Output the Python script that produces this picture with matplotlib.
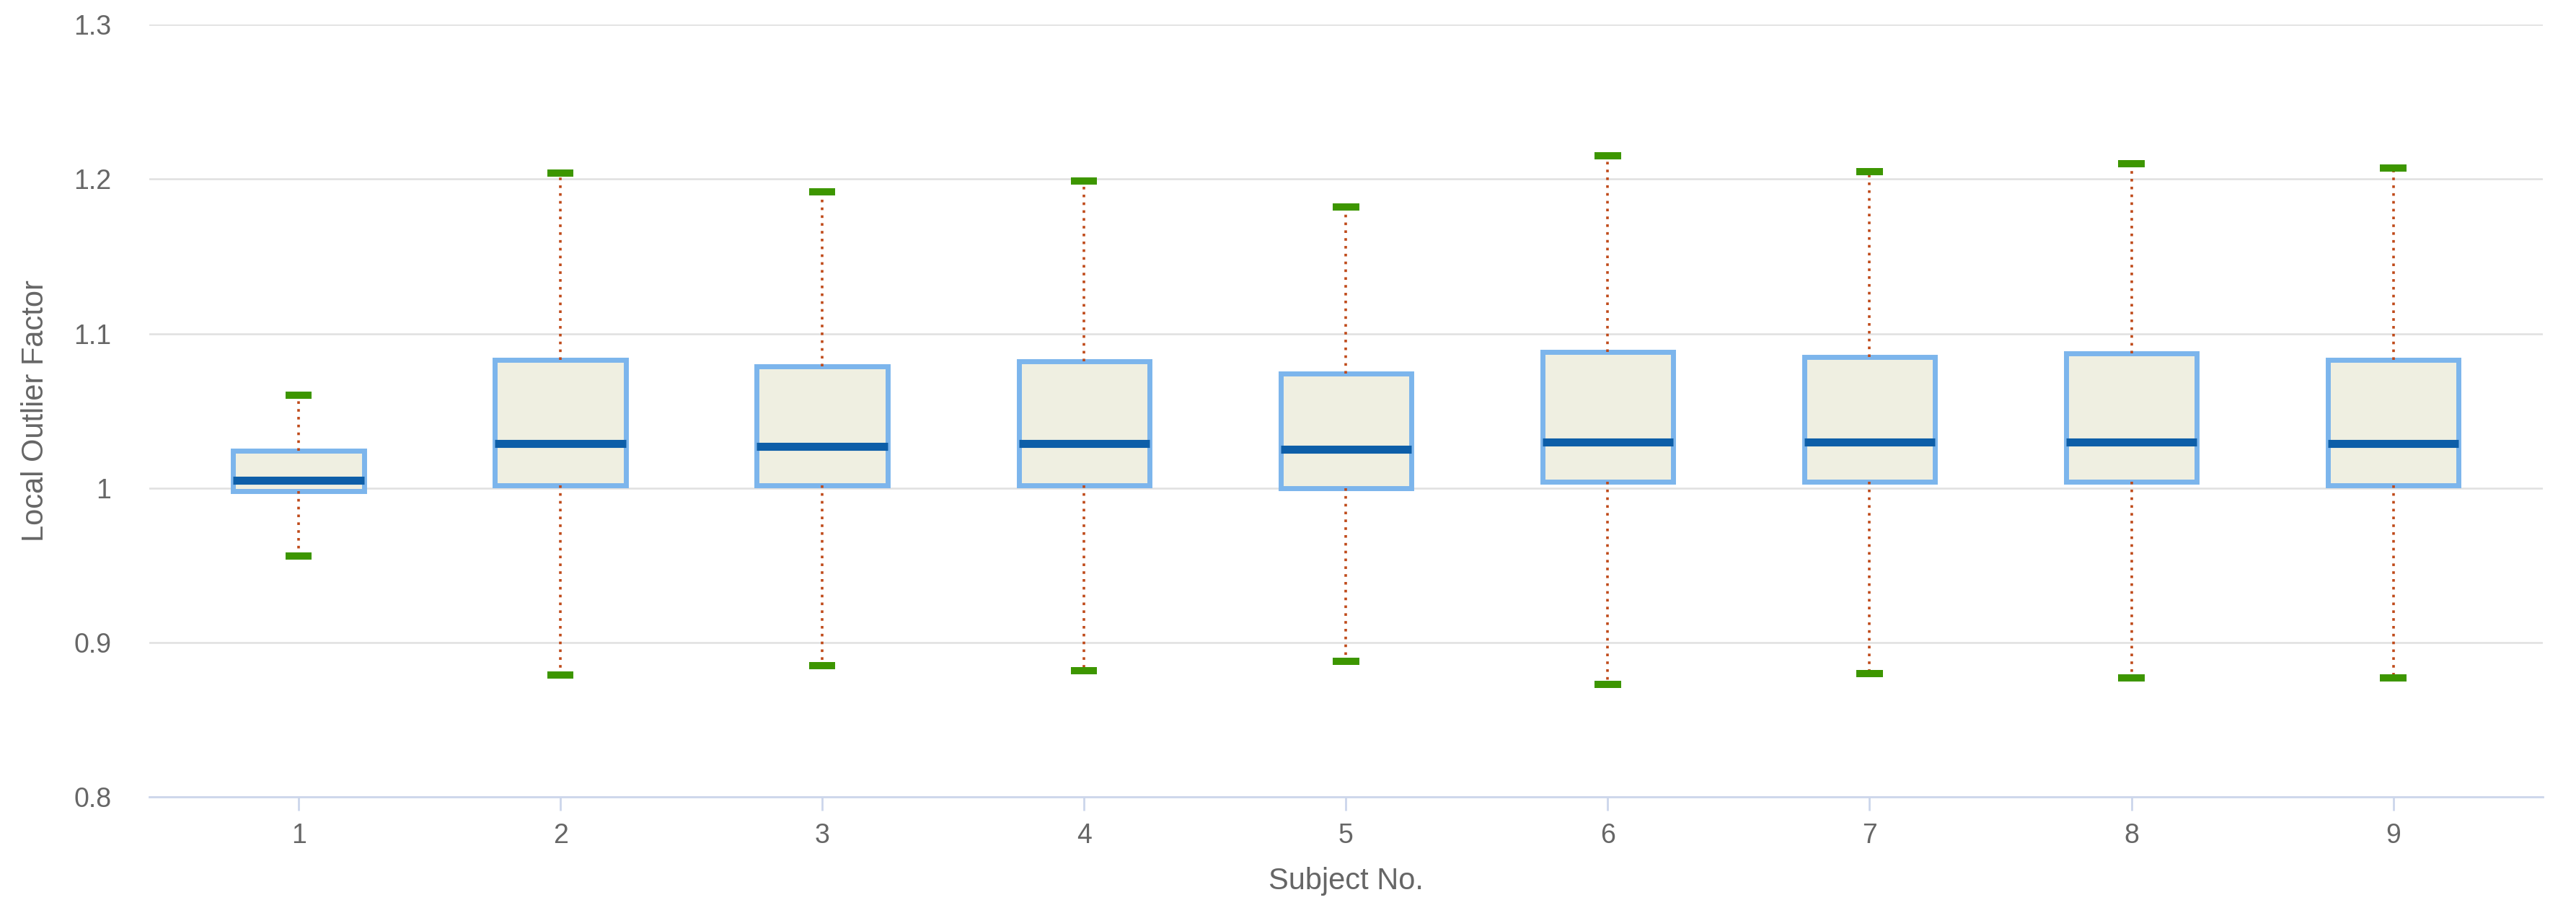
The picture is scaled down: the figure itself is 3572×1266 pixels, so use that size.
import matplotlib
matplotlib.use("Agg")
import matplotlib.pyplot as plt

plt.rcParams['font.family'] = ['Liberation Sans', 'DejaVu Sans']

subjects = ["1", "2", "3", "4", "5", "6", "7", "8", "9"]
lower_whisker = [0.956, 0.879, 0.885, 0.882, 0.888, 0.873, 0.880, 0.877, 0.877]
q1 = [0.998, 1.002, 1.002, 1.002, 1.000, 1.004, 1.004, 1.004, 1.002]
median = [1.005, 1.029, 1.027, 1.029, 1.025, 1.030, 1.030, 1.030, 1.029]
q3 = [1.024, 1.083, 1.079, 1.082, 1.074, 1.088, 1.085, 1.087, 1.083]
upper_whisker = [1.060, 1.204, 1.192, 1.199, 1.182, 1.215, 1.205, 1.210, 1.207]
y_ticks = [0.8, 0.9, 1.0, 1.1, 1.2, 1.3]

DPI = 200
fig = plt.figure(figsize=(3572 / DPI, 1266 / DPI), dpi=DPI)
ax = fig.add_axes([0.058, 0.127, 0.929, 0.846])

stats = []
for i, s in enumerate(subjects):
    stats.append(dict(label=s, whislo=lower_whisker[i], q1=q1[i], med=median[i],
                      q3=q3[i], whishi=upper_whisker[i], fliers=[]))

positions = list(range(1, len(subjects) + 1))
ax.bxp(stats, positions=positions, widths=0.5, capwidths=0.1, patch_artist=True,
       showfliers=False,
       boxprops=dict(facecolor="#efefe1", edgecolor="#7cb5ec", linewidth=2.5),
       medianprops=dict(color="#0d5ea8", linewidth=4.0, solid_capstyle="butt"),
       whiskerprops=dict(color="#bf4a1a", linewidth=1.3, linestyle=(0, (1, 2.0))),
       capprops=dict(color="#3d9600", linewidth=3.6, solid_capstyle="butt"),
       zorder=3)

ax.set_xlim(0.43, 9.57)
ax.set_ylim(0.8, 1.3)
ax.set_yticks(y_ticks)
ax.set_yticklabels(["%g" % v for v in y_ticks])
ax.grid(axis="y", color="#e0e0e0", linewidth=0.9, zorder=0)
ax.set_axisbelow(True)
for sp in ["top", "right", "left"]:
    ax.spines[sp].set_visible(False)
ax.spines["bottom"].set_color("#ccd6eb")
ax.spines["bottom"].set_linewidth(1.0)
ax.tick_params(axis="y", length=0, pad=19, labelsize=13.5, labelcolor="#666666")
ax.tick_params(axis="x", length=7, width=1.0, color="#ccd6eb", pad=6,
               labelsize=13.5, labelcolor="#666666")
ax.set_xlabel("Subject No.", fontsize=15, color="#666666", labelpad=9)
ax.set_ylabel("Local Outlier Factor", fontsize=15, color="#666666", labelpad=12)

fig.savefig("out.png", dpi=DPI, facecolor="white")
